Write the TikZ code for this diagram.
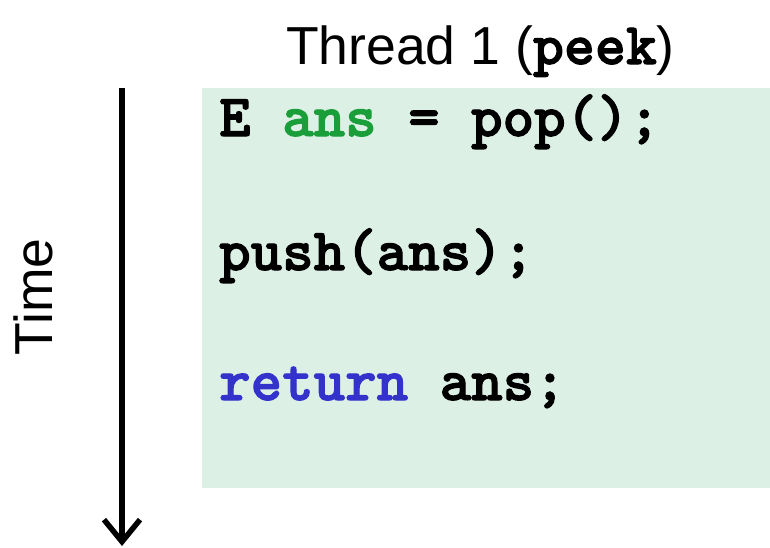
\documentclass[tikz,border=0pt]{standalone}
\usepackage{fontspec}
\setmainfont{Liberation Sans}
\newfontfamily\heavytt{lmmonolt10-bold}[Extension=.otf, FakeBold=1.8]
\usetikzlibrary{arrows.meta}
\definecolor{boxfill}{HTML}{DDF0E6}
\definecolor{vargreen}{HTML}{1A9E3A}
\definecolor{kwblue}{HTML}{3333CC}
\tikzset{
  code/.style={anchor=base west, inner sep=0pt, font=\fontsize{60}{66}\selectfont\heavytt},
  label/.style={inner sep=0pt, font=\fontsize{53.5}{60}\selectfont},
}
\begin{document}
\begin{tikzpicture}[x=1pt,y=-1pt]
  \useasboundingbox (0,0) rectangle (770,547);
  % thread body
  \fill[boxfill] (202,88) rectangle (770,488);
  % title
  \node[label, anchor=base west] (title) at (286,64)
    {Thread 1 ({\fontsize{59}{60}\selectfont\heavytt peek})};
  % code lines
  \node[code] (l1) at (219,136) {E \textcolor{vargreen}{ans} = pop();};
  \node[code] (l2) at (219,270) {push(ans);};
  \node[code] (l3) at (219,400) {\textcolor{kwblue}{return} ans;};
  % time axis
  \coordinate (tstart) at (122,88);
  \coordinate (tend) at (122,546);
  \draw[line width=5.5pt, -{Straight Barb[length=22pt,width=36pt,line width=5.5pt]}] (tstart) -- (tend);
  \node[label, rotate=90, anchor=center] (time) at (33,297) {Time};
\end{tikzpicture}
\end{document}
